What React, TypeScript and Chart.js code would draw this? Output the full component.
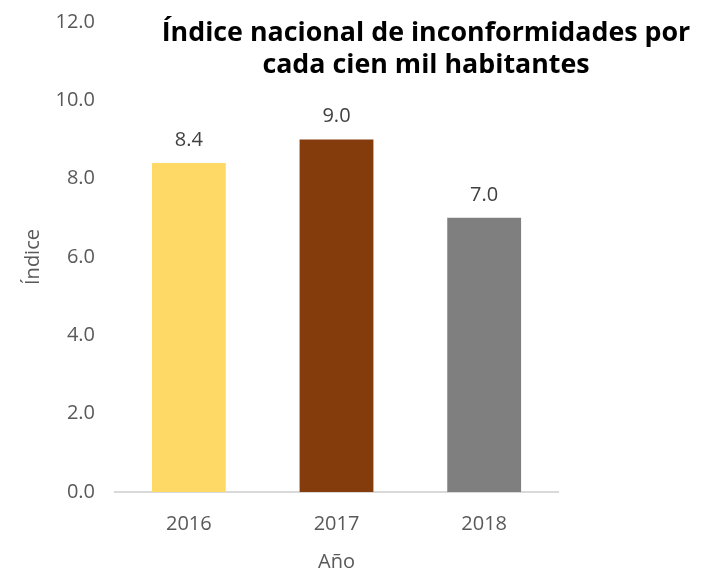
import React, { useEffect, useRef } from "react";
import { Chart, registerables } from "chart.js";

Chart.register(...registerables);

const categories = ["2016", "2017", "2018"];
const values = [8.4, 9.0, 7.0];
const barColors = ["#FFD966", "#843C0C", "#7F7F7F"];
const titleLines = ["Índice nacional de inconformidades por", "cada cien mil habitantes"];
const yTitle = "Índice";
const xTitle = "Año";

const FONT = "'Open Sans', 'Noto Sans', sans-serif";

const labelPlugin = {
  id: "labelsAndTitle",
  afterDatasetsDraw(chart: any) {
    const ctx = chart.ctx;
    const meta = chart.getDatasetMeta(0);
    ctx.save();
    ctx.fillStyle = "#404040";
    ctx.font = `20px ${FONT}`;
    ctx.textAlign = "center";
    ctx.textBaseline = "middle";
    meta.data.forEach((bar: any, i: number) => {
      ctx.fillText(values[i].toFixed(1), bar.x, bar.y - 23);
    });
    ctx.fillStyle = "#000000";
    ctx.font = `bold 26.8px ${FONT}`;
    const cx = 426;
    titleLines.forEach((line, i) => {
      ctx.fillText(line, cx, 33 + i * 32);
    });
    ctx.restore();
  },
};

export default function App() {
  const ref = useRef<HTMLCanvasElement | null>(null);
  useEffect(() => {
    if (!ref.current) return;
    const chart = new Chart(ref.current, {
      type: "bar",
      data: {
        labels: categories,
        datasets: [
          {
            data: values,
            backgroundColor: barColors,
            barPercentage: 0.5,
            categoryPercentage: 1,
          },
        ],
      },
      options: {
        animation: false,
        responsive: false,
        maintainAspectRatio: false,
        layout: { padding: { left: 0, top: 22, right: 155, bottom: 0 } },
        plugins: { legend: { display: false }, tooltip: { enabled: false }, title: { display: false } },
        scales: {
          x: {
            grid: { display: false, drawTicks: false },
            border: { display: true, color: "#D9D9D9", width: 2 },
            ticks: { color: "#595959", font: { family: FONT, size: 20 }, padding: 20 },
            title: {
              display: true,
              text: xTitle,
              color: "#595959",
              font: { family: FONT, size: 20 },
              padding: { top: 0, bottom: 1 },
            },
            afterFit: (s: any) => {
              s.height = 83;
              s.paddingLeft = 0;
              s.paddingRight = 0;
            },
          },
          y: {
            min: 0,
            max: 12,
            grid: { display: false, drawTicks: false },
            border: { display: false },
            ticks: {
              stepSize: 2,
              color: "#595959",
              font: { family: FONT, size: 20 },
              padding: 20,
              callback: (v: any) => Number(v).toFixed(1),
            },
            title: {
              display: true,
              text: yTitle,
              color: "#595959",
              font: { family: FONT, size: 20 },
              padding: { top: 21, bottom: 0 },
            },
            afterFit: (s: any) => {
              s.width = 115;
              s.paddingTop = 0;
              s.paddingBottom = 0;
            },
          },
        },
      },
      plugins: [labelPlugin],
    });
    return () => chart.destroy();
  }, []);
  return (
    <div style={{ position: "absolute", left: 0, top: 0, width: 713, height: 575, background: "#fff" }}>
      <canvas ref={ref} width={713} height={575} style={{ width: 713, height: 575 }} />
    </div>
  );
}
